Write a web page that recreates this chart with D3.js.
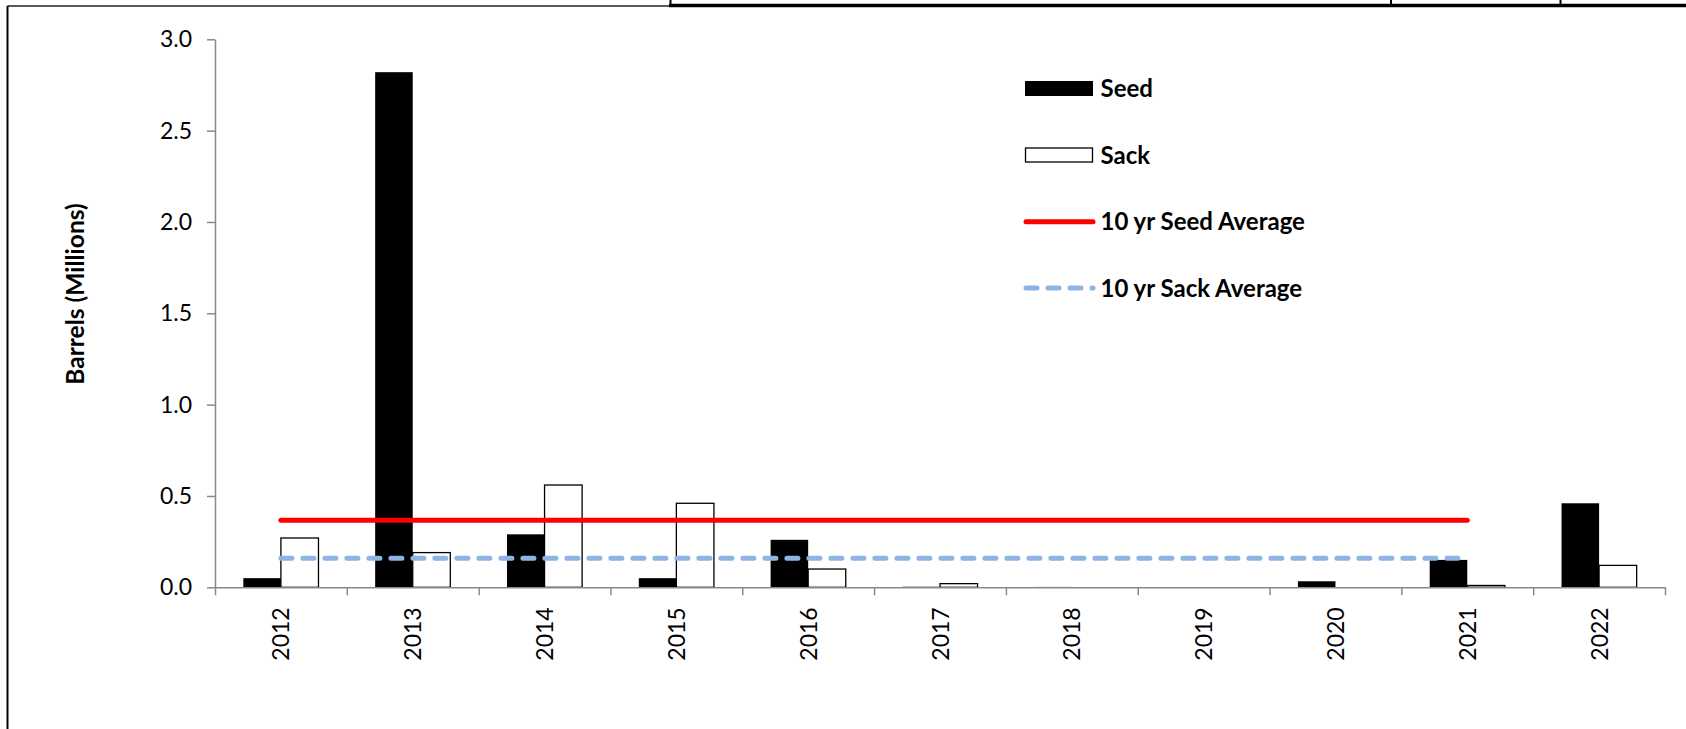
<!DOCTYPE html>
<html lang="en">
    <head>
        <meta charset="UTF-8">
        <title>Barrels</title>
        <style>
            body { margin: 0; background: #fff; }
            text { font-family: Lato, "Open Sans", sans-serif; }
        </style>
    </head>
    <script src="https://cdn.jsdelivr.net/npm/d3@7"></script>
    <body>
        <svg width="1686" height="729"></svg>
    </body>

    <script>
    // data
    var years = ["2012", "2013", "2014", "2015", "2016", "2017", "2018", "2019", "2020", "2021", "2022"];
    var seed = [0.05, 2.82, 0.29, 0.05, 0.26, 0.003, 0.002, 0, 0.033, 0.15, 0.46];
    var sack = [0.27, 0.19, 0.56, 0.46, 0.10, 0.02, 0, 0, 0, 0.01, 0.12];
    var avgYears = ["2012", "2021"];
    var seedAvg = 0.367;
    var sackAvg = 0.159;
    var yTicks = [0, 0.5, 1.0, 1.5, 2.0, 2.5, 3.0];
    var legendItems = ["Seed", "Sack", "10 yr Seed Average", "10 yr Sack Average"];

    var svg = d3.select("svg");
    var plotLeft = 215, plotRight = 1665, plotTop = 39.3, plotBottom = 587.3;

    // frame + the table edge above it
    svg.append("line").attr("x1", 7.5).attr("x2", 672).attr("y1", 6).attr("y2", 6)
        .attr("stroke", "#222").attr("stroke-width", 1.5);
    svg.append("line").attr("x1", 7.5).attr("x2", 7.5).attr("y1", 6).attr("y2", 729)
        .attr("stroke", "#000").attr("stroke-width", 2);
    svg.append("line").attr("x1", 669).attr("x2", 1686).attr("y1", 5.5).attr("y2", 5.5)
        .attr("stroke", "#000").attr("stroke-width", 3.5);
    [670.5, 1391, 1560.5].forEach(function(x) {
        svg.append("line").attr("x1", x).attr("x2", x).attr("y1", 0).attr("y2", 6)
            .attr("stroke", "#000").attr("stroke-width", 2);
    });

    var y = d3.scaleLinear().domain([0, 3]).range([plotBottom, plotTop]);

    var x0 = d3.scaleBand()
        .domain(years)
        .range([plotLeft, plotRight])
        .paddingInner(0.43)
        .paddingOuter(0.215);

    var x1 = d3.scaleBand()
        .domain(["seed", "sack"])
        .range([0, x0.bandwidth()]);

    var rows = years.map(function(yr, i) { return {year: yr, seed: seed[i], sack: sack[i]}; });

    // bars
    var g = svg.append("g");
    g.selectAll("rect.seed")
        .data(rows)
        .join("rect")
        .attr("class", "seed")
        .attr("x", function(d) { return x0(d.year) + x1("seed"); })
        .attr("width", x1.bandwidth())
        .attr("y", function(d) { return y(d.seed); })
        .attr("height", function(d) { return plotBottom - y(d.seed); })
        .attr("fill", "#000");

    g.selectAll("rect.sack")
        .data(rows.filter(function(d) { return d.sack > 0; }))
        .join("rect")
        .attr("class", "sack")
        .attr("x", function(d) { return x0(d.year) + x1("sack"); })
        .attr("width", x1.bandwidth())
        .attr("y", function(d) { return y(d.sack); })
        .attr("height", function(d) { return plotBottom - y(d.sack); })
        .attr("fill", "#fff")
        .attr("stroke", "#000")
        .attr("stroke-width", 1.3);

    // average lines
    var line = d3.line()
        .x(function(d) { return x0(d.year) + x0.bandwidth() / 2; })
        .y(function(d) { return y(d.v); });

    svg.append("path")
        .attr("d", line(avgYears.map(function(yr) { return {year: yr, v: sackAvg}; })))
        .attr("stroke", "#8DB4E2").attr("stroke-width", 5).attr("fill", "none")
        .attr("stroke-linecap", "round").attr("stroke-dasharray", "11,11");

    svg.append("path")
        .attr("d", line(avgYears.map(function(yr) { return {year: yr, v: seedAvg}; })))
        .attr("stroke", "#FF0000").attr("stroke-width", 5).attr("fill", "none")
        .attr("stroke-linecap", "round");

    // y axis
    var yAxis = svg.append("g")
        .attr("transform", "translate(" + plotLeft + ",0)")
        .call(d3.axisLeft(y).tickValues(yTicks).tickFormat(d3.format(".1f"))
            .tickSize(8).tickSizeOuter(0).tickPadding(15));
    yAxis.selectAll("path, line").attr("stroke", "#898989").attr("stroke-width", 1.5);
    yAxis.selectAll("text").attr("font-size", 23).attr("fill", "#000")
        .style("font-family", "Lato, sans-serif");

    // x axis: ticks on category boundaries, labels rotated
    var xb = d3.scaleLinear().domain([0, years.length]).range([plotLeft, plotRight]);
    var xAxis = svg.append("g")
        .attr("transform", "translate(0," + plotBottom + ")")
        .call(d3.axisBottom(xb).tickValues(d3.range(years.length + 1))
            .tickFormat("").tickSize(8).tickSizeOuter(0));
    xAxis.selectAll("path, line").attr("stroke", "#898989").attr("stroke-width", 1.5);

    svg.append("g").selectAll("text")
        .data(years)
        .join("text")
        .attr("transform", function(d) {
            return "translate(" + (x0(d) + x0.bandwidth() / 2 + 8.5) + "," + (plotBottom + 20) + ") rotate(-90)";
        })
        .attr("text-anchor", "end")
        .attr("font-size", 23)
        .text(function(d) { return d; });

    // y title
    svg.append("text")
        .attr("transform", "translate(84,294) rotate(-90)")
        .attr("text-anchor", "middle")
        .attr("font-size", 24.5)
        .attr("font-weight", "bold")
        .text("Barrels (Millions)");

    // legend
    var lg = svg.append("g");
    var ly = [88.5, 155, 221.7, 288];
    legendItems.forEach(function(name, i) {
        var cy = ly[i];
        if (i === 0) {
            lg.append("rect").attr("x", 1025).attr("y", cy - 7.5).attr("width", 68).attr("height", 15).attr("fill", "#000");
        } else if (i === 1) {
            lg.append("rect").attr("x", 1025.5).attr("y", cy - 7).attr("width", 67).attr("height", 14)
                .attr("fill", "#fff").attr("stroke", "#000").attr("stroke-width", 1.3);
        } else if (i === 2) {
            lg.append("line").attr("x1", 1026).attr("x2", 1093).attr("y1", cy).attr("y2", cy)
                .attr("stroke", "#FF0000").attr("stroke-width", 5).attr("stroke-linecap", "round");
        } else {
            lg.append("line").attr("x1", 1026).attr("x2", 1093).attr("y1", cy).attr("y2", cy)
                .attr("stroke", "#8DB4E2").attr("stroke-width", 5).attr("stroke-linecap", "round")
                .attr("stroke-dasharray", "11,11");
        }
        lg.append("text")
            .attr("x", 1100.5)
            .attr("y", cy + 8.5)
            .attr("font-size", 24)
            .attr("font-weight", "bold")
            .text(name);
    });
    </script>
</html>
